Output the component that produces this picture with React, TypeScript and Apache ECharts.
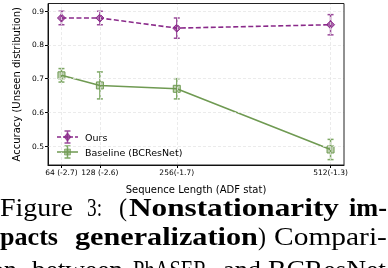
import React, { useEffect, useRef } from "react";
import * as echarts from "echarts";

const seqLengths = [64, 128, 256, 512];
const xTickLabels = ["64 (-2.7)", "128 (-2.6)", "256(-1.7)", "512(-1.3)"];
const oursMean = [0.88, 0.88, 0.85, 0.86];
const oursErr = [0.02, 0.02, 0.03, 0.03];
const baseMean = [0.71, 0.68, 0.67, 0.49];
const baseErr = [0.02, 0.04, 0.03, 0.03];
const yTicks = [0.5, 0.6, 0.7, 0.8, 0.9];

const PURPLE = "#8a2a8a";
const PURPLE_E = "#9a4a9a";
const GREEN = "#6f9a52";
const GREEN_E = "#7ea865";
const FONT = "DejaVu Sans";
const SERIF = "Liberation Serif";
const CAP_SIZE = 25.5;

// caption words: [text, bold, left, right, baseline]
const captionWords: [string, boolean, number, number, number][] = [
  ["Figure", false, 0, 73, 216],
  ["3:", false, 87, 102, 216],
  ["(", false, 119, 127, 216],
  ["Nonstationarity", true, 129, 339, 216],
  ["im-", true, 349, 387, 216],
  ["pacts", true, 0, 58, 245],
  ["generalization", true, 75, 258, 245],
  [")", false, 258, 266, 245],
  ["Compari-", false, 274, 387, 245],
  ["son", false, -19, 17, 278],
  ["between", false, 32, 123, 278],
  ["PhASER", false, 133, 207, 278],
  ["and", false, 223, 261, 278],
  ["BCResNet", false, 268, 386, 278],
];

function errSeries(mean: number[], err: number[], color: string) {
  return {
    type: "custom",
    silent: true,
    z: 3,
    data: seqLengths.map((x, i) => [x, mean[i], err[i]]),
    renderItem: (params: any, api: any) => {
      const x = api.value(0), y = api.value(1), e = api.value(2);
      const t = api.coord([x, y + e]);
      const b = api.coord([x, y - e]);
      const st = { stroke: color, lineWidth: 1.5 };
      return {
        type: "group",
        children: [
          { type: "line", shape: { x1: t[0], y1: t[1], x2: b[0], y2: b[1] }, style: st },
          { type: "line", shape: { x1: t[0] - 3, y1: t[1], x2: t[0] + 3, y2: t[1] }, style: st },
          { type: "line", shape: { x1: b[0] - 3, y1: b[1], x2: b[0] + 3, y2: b[1] }, style: st },
        ],
      };
    },
  };
}

export default function App() {
  const ref = useRef<HTMLDivElement>(null);
  useEffect(() => {
    document.body.style.margin = "0";
    const chart = echarts.init(ref.current!, null, { renderer: "svg" });
    const gridStyle = { color: "#e6e6e6", type: [3, 2] as any, width: 0.8 };
    const legendY1 = 137, legendY2 = 152;
    const legendItem = (y: number, color: string, ecolor: string, dashed: boolean, symbol: string) => {
      const children: any[] = [
        { type: "line", shape: { x1: 57, y1: y, x2: 78, y2: y }, style: { stroke: color, lineWidth: 1.5, lineDash: dashed ? [4, 2] : null } },
        { type: "line", shape: { x1: 67.5, y1: y - 6, x2: 67.5, y2: y + 6 }, style: { stroke: ecolor, lineWidth: 1.5 } },
        { type: "line", shape: { x1: 64.5, y1: y - 6, x2: 70.5, y2: y - 6 }, style: { stroke: ecolor, lineWidth: 1.5 } },
        { type: "line", shape: { x1: 64.5, y1: y + 6, x2: 70.5, y2: y + 6 }, style: { stroke: ecolor, lineWidth: 1.5 } },
      ];
      if (symbol === "diamond") {
        children.push({ type: "polygon", shape: { points: [[67.5, y - 4], [71, y], [67.5, y + 4], [64, y]] }, style: { fill: color, opacity: 0.8, stroke: color } });
      } else {
        children.push({ type: "rect", shape: { x: 64.5, y: y - 3, width: 6, height: 6 }, style: { fill: color, opacity: 0.6, stroke: color } });
      }
      return children;
    };

    const ctx = document.createElement("canvas").getContext("2d")!;
    const measure = (t: string, bold: boolean) => {
      ctx.font = `${bold ? "bold " : ""}${CAP_SIZE}px "${SERIF}"`;
      return ctx.measureText(t).width || 1;
    };
    const captionEls = captionWords.map(([t, bold, x0, x1, base]) => ({
      type: "text",
      x: x0,
      y: base - 0.3375 * CAP_SIZE,
      scaleX: (x1 - x0) / measure(t, bold),
      silent: true,
      style: {
        text: t,
        fontFamily: SERIF,
        fontSize: CAP_SIZE,
        fontWeight: bold ? "bold" : "normal",
        fill: "#000",
        verticalAlign: "middle",
      },
    }));

    chart.setOption({
      animation: false,
      grid: { left: 48, right: 44, top: 3.5, bottom: 103 },
      xAxis: {
        type: "value",
        min: 41.6,
        max: 534.4,
        name: "Sequence Length (ADF stat)",
        nameLocation: "middle",
        nameGap: 19,
        nameTextStyle: { fontFamily: FONT, fontSize: 10, color: "#000" },
        axisLine: { show: true, onZero: false, lineStyle: { color: "#000", width: 1 } },
        axisTick: { show: true, customValues: seqLengths, length: 3, lineStyle: { color: "#000" } },
        axisLabel: {
          customValues: seqLengths,
          fontFamily: FONT,
          fontSize: 7.5,
          color: "#000",
          margin: 3,
          formatter: (v: number) => xTickLabels[seqLengths.indexOf(v)] ?? "",
        },
        splitLine: { show: false },
      },
      yAxis: {
        type: "value",
        min: 0.444,
        max: 0.923,
        name: "Accuracy (Unseen distribution)",
        nameLocation: "middle",
        nameGap: 20,
        nameTextStyle: { fontFamily: FONT, fontSize: 10, color: "#000" },
        axisLine: { show: true, onZero: false, lineStyle: { color: "#000", width: 1 } },
        axisTick: { show: true, customValues: yTicks, length: 3, lineStyle: { color: "#000" } },
        axisLabel: {
          customValues: yTicks,
          fontFamily: FONT,
          fontSize: 7.5,
          color: "#000",
          margin: 4,
          formatter: (v: number) => v.toFixed(1),
        },
        splitLine: { show: false },
      },
      series: [
        {
          type: "line",
          data: [],
          silent: true,
          z: 0,
          markLine: {
            silent: true,
            symbol: ["none", "none"],
            label: { show: false },
            lineStyle: gridStyle,
            data: [
              ...seqLengths.map((v) => ({ xAxis: v })),
              ...yTicks.map((v) => ({ yAxis: v })),
            ],
          },
        },
        errSeries(oursMean, oursErr, PURPLE_E),
        errSeries(baseMean, baseErr, GREEN_E),
        {
          type: "line",
          name: "Ours",
          z: 4,
          data: seqLengths.map((x, i) => [x, oursMean[i]]),
          lineStyle: { color: PURPLE, width: 1.6, type: [5, 2.5] },
          symbol: "diamond",
          symbolSize: 8,
          itemStyle: { color: "rgba(138,42,138,0.7)", borderColor: PURPLE, borderWidth: 1 },
        },
        {
          type: "line",
          name: "Baseline (BCResNet)",
          z: 4,
          data: seqLengths.map((x, i) => [x, baseMean[i]]),
          lineStyle: { color: GREEN, width: 1.6 },
          symbol: "rect",
          symbolSize: 7,
          itemStyle: { color: "rgba(111,154,82,0.45)", borderColor: GREEN, borderWidth: 1 },
        },
      ],
      graphic: [
        { type: "rect", shape: { x: 48, y: 3.5, width: 296, height: 161.5 }, style: { fill: "none", stroke: "#222", lineWidth: 1 }, silent: true, z: 10 },
        ...legendItem(legendY1, PURPLE, PURPLE_E, true, "diamond"),
        ...legendItem(legendY2, GREEN, GREEN_E, false, "rect"),
        { type: "text", x: 85, y: legendY1, style: { text: "Ours", fontFamily: FONT, fontSize: 9.5, fill: "#000", verticalAlign: "middle" } },
        { type: "text", x: 85, y: legendY2, style: { text: "Baseline (BCResNet)", fontFamily: FONT, fontSize: 9.5, fill: "#000", verticalAlign: "middle" } },
        ...captionEls,
      ],
    });
    return () => chart.dispose();
  }, []);
  return <div ref={ref} style={{ position: "fixed", left: 0, top: 0, width: 388, height: 268 }} />;
}
